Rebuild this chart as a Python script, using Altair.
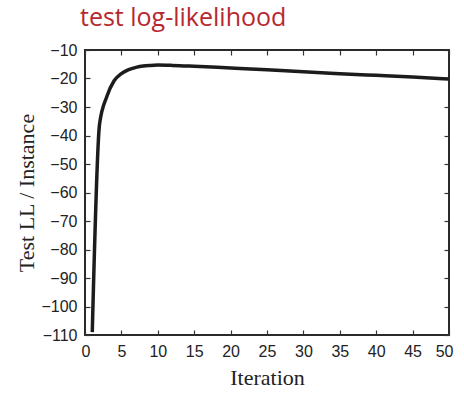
import altair as alt
import pandas as pd

iterations = [1, 2, 3, 4, 5, 6, 7, 8, 9, 10, 12, 15, 20, 25, 30, 35, 40, 45, 50]
test_ll = [-109, -36, -26.3, -20.8, -18.3, -16.9, -16.1, -15.6, -15.4, -15.3, -15.4, -15.7, -16.3, -16.9, -17.6, -18.3, -18.9, -19.5, -20.2]

df = pd.DataFrame({"Iteration": iterations, "LL": test_ll})

x_ticks = [0, 5, 10, 15, 20, 25, 30, 35, 40, 45, 50]
y_ticks = [-10, -20, -30, -40, -50, -60, -70, -80, -90, -100, -110]

x_scale = alt.Scale(domain=[0, 50], nice=False)
y_scale = alt.Scale(domain=[-110, -10], nice=False)

label_font = "Liberation Sans"
title_font = "Liberation Serif"

base = alt.Chart(df)

main = base.mark_line(color="#1c1c1c", strokeWidth=3.5, interpolate="monotone").encode(
    x=alt.X("Iteration:Q", scale=x_scale,
            axis=alt.Axis(orient="bottom", values=x_ticks, domain=False, offset=-5,
                          tickSize=5, tickColor="#333", tickWidth=1.2,
                          labelFlush=True, labelFlushOffset=4, labelOverlap=False,
                          labelPadding=8, labelFont=label_font, labelFontSize=16,
                          labelColor="#222", grid=False,
                          title="Iteration", titleFont=title_font, titleFontSize=22,
                          titleFontWeight="normal", titleColor="#222", titlePadding=8)),
    y=alt.Y("LL:Q", scale=y_scale,
            axis=alt.Axis(orient="left", values=y_ticks, domain=False, offset=-5,
                          tickSize=5, tickColor="#333", tickWidth=1.2,
                          labelFlush=False, labelOverlap=False,
                          labelPadding=8, labelFont=label_font, labelFontSize=16,
                          labelColor="#222", grid=False,
                          title="Test LL / Instance", titleFont=title_font, titleFontSize=22,
                          titleFontWeight="normal", titleColor="#222", titlePadding=2)),
)

frame_ticks = base.mark_line(opacity=0).encode(
    x=alt.X("Iteration:Q", scale=x_scale,
            axis=alt.Axis(orient="top", values=x_ticks, domain=False, offset=-5,
                          tickSize=5, tickColor="#333", tickWidth=1.2,
                          labels=False, title=None, grid=False)),
    y=alt.Y("LL:Q", scale=y_scale,
            axis=alt.Axis(orient="right", values=y_ticks, domain=False, offset=-5,
                          tickSize=5, tickColor="#333", tickWidth=1.2,
                          labels=False, title=None, grid=False)),
)

chart = alt.layer(main, frame_ticks).resolve_axis(x="independent", y="independent").properties(
    width=364,
    height=285,
    autosize=alt.AutoSizeParams(type="none"),
    padding={"left": 85, "top": 50, "right": 15, "bottom": 58},
    title=alt.TitleParams("test log-likelihood", anchor="start", frame="group",
                          font="Open Sans", fontSize=25, fontWeight="normal",
                          color="#b7282e", dx=-5, offset=11),
).configure_view(stroke="#2a2a2a", strokeWidth=2)

chart.save("out.html", embed_options={"renderer": "svg", "actions": False})
